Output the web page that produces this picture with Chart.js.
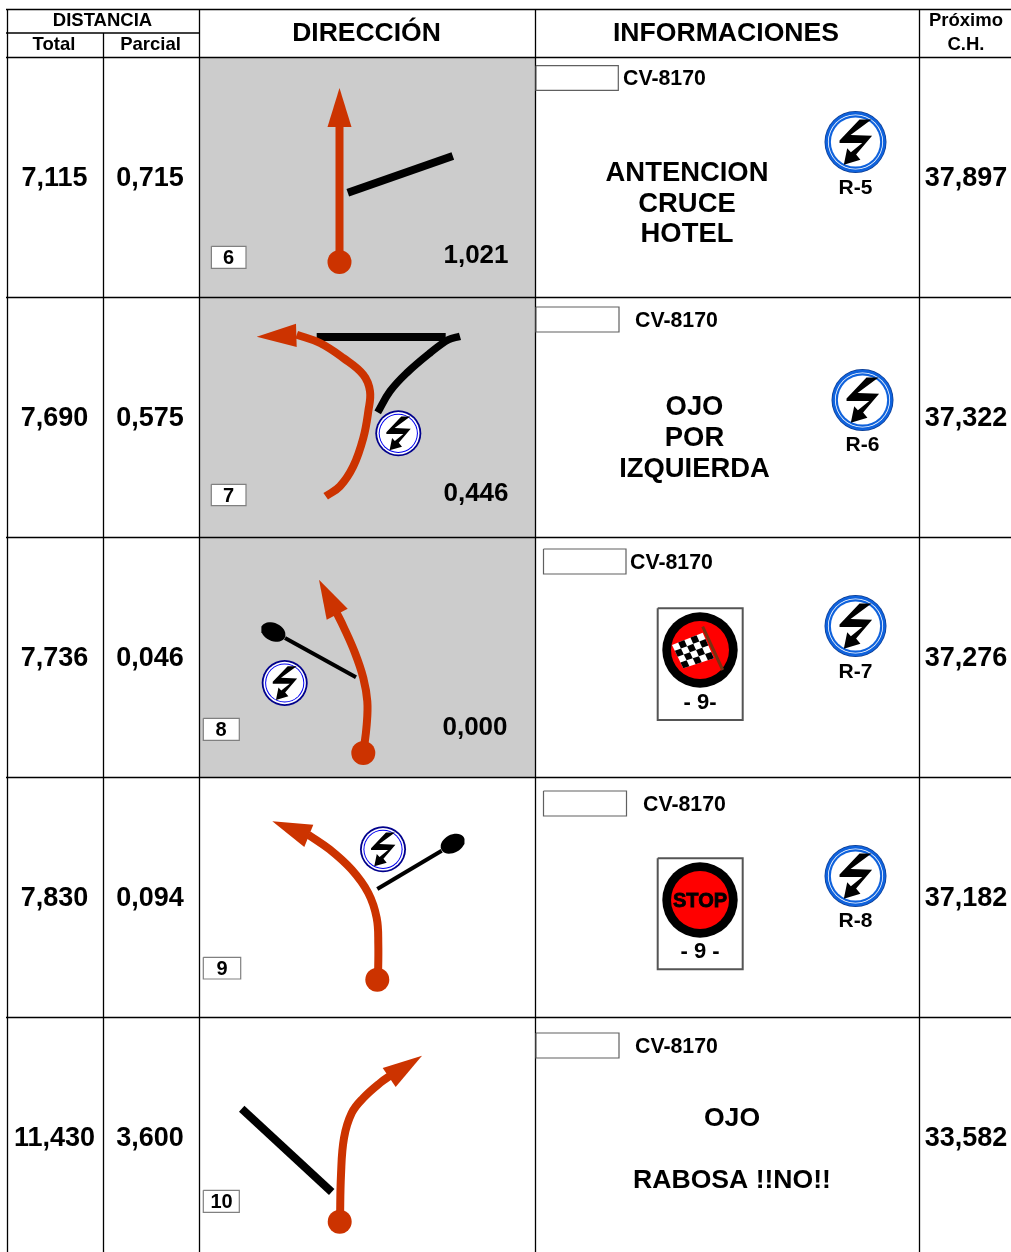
<!DOCTYPE html>
<html>
<head>
<meta charset="utf-8">
<title>Road book</title>
<script src="https://cdn.jsdelivr.net/npm/chart.js@4"></script>
<style>
  html, body { margin: 0; padding: 0; background: #fff; }
  canvas { display: block; }
</style>
</head>
<body>
<canvas id="roadBook" width="1011" height="1252"></canvas>
<script>
// Values read from the road book
const totals = [7.115, 7.690, 7.736, 7.830, 11.430];
const partials = [0.715, 0.575, 0.046, 0.094, 3.600];
const nextCheck = [37.897, 37.322, 37.276, 37.182, 33.582];
const stepNumbers = ['6', '7', '8', '9', '10'];
const trackDistances = [1.021, 0.446, 0.000];
const roadName = 'CV-8170';
const radarCodes = ['R-5', 'R-6', 'R-7', 'R-8'];
const notesRow1 = ['ANTENCION', 'CRUCE', 'HOTEL'];
const notesRow2 = ['OJO', 'POR', 'IZQUIERDA'];
const notesRow5 = ['OJO', 'RABOSA !!NO!!'];

// Route traces, in page units of the chart's axes
const route1 = [[339.5, 262], [339.5, 125]];
const route2 = [[325.7, 496.3], [340, 486.3], [353.3, 466.3], [363.3, 438], [368.3, 411.3], [370, 391.3], [363.3, 374.7], [343.3, 358], [320, 343], [296.7, 334.7]];
const route3 = [[363.3, 753], [366.7, 724.7], [367.3, 701.3], [363.3, 678], [355, 653], [343.3, 626.3], [336.7, 613]];
const route4 = [[378, 979], [378.3, 944.7], [376.7, 918], [368.3, 893], [351.7, 869.7], [330, 849.7], [308.3, 834.7]];
const route5 = [[340, 1221], [341, 1174.7], [344, 1138], [351.7, 1113], [363.3, 1098], [380, 1083], [391.7, 1074.7]];

const head1 = [[339.5, 88], [351.5, 127], [327.5, 127]];
const head2 = [[256.7, 336.7], [296, 323.7], [296.7, 347]];
const head3 = [[319, 579.7], [347.7, 608.7], [326.7, 619.7]];
const head4 = [[272.3, 821.3], [313.3, 824.7], [304.3, 847]];
const head5 = [[422, 1055.7], [382.7, 1068], [395.7, 1087]];

const startDots = [[339.5, 262], [363.3, 753], [377.3, 979.7], [339.7, 1221.7]];

const side1 = [[347.8, 192.7], [452.8, 156]];
const side2a = [[316.7, 337], [445.7, 337]];
const side2b = [[377.7, 412.3], [390, 391.3], [406.7, 373], [430, 353], [448.3, 339.7], [460, 336.3]];
const side3 = [[285, 638], [356, 677.3]];
const side4 = [[441.7, 850.7], [377.3, 889]];
const side5 = [[241.7, 1108.7], [331.7, 1192]];

const bolt = [[0.13, -0.73], [0.52, -0.73], [-0.16, -0.23], [0.54, -0.2], [0.02, 0.41], [0.16, 0.58], [-0.38, 0.74], [-0.27, 0.2], [-0.15, 0.33], [0.22, 0.03], [-0.52, 0.03], [-0.52, -0.05]];

const RED = '#CC3300';
const GREY = '#CCCCCC';
const datasets = [];

function pts(list) {
    return list.map(p => ({ x: p[0], y: p[1] }));
}

function stroke(list, width, color, tension) {
    datasets.push({
        data: pts(list), showLine: true, fill: false, pointRadius: 0,
        borderColor: color, borderWidth: width, tension: tension || 0, borderCapStyle: 'butt'
    });
}

function shape(list, color, edge, edgeWidth) {
    datasets.push({
        data: pts(list.concat([list[0]])), showLine: true, fill: 'shape', pointRadius: 0,
        backgroundColor: color, borderColor: edge || color, borderWidth: edgeWidth === undefined ? 0 : edgeWidth
    });
}

function box(x0, y0, x1, y1, color, edge, edgeWidth) {
    shape([[x0, y0], [x1, y0], [x1, y1], [x0, y1]], color, edge, edgeWidth);
}

function disc(x, y, r, color) {
    datasets.push({
        data: [{ x: x, y: y }], showLine: false, pointStyle: 'circle', pointRadius: r,
        pointBackgroundColor: color, pointBorderColor: color, pointBorderWidth: 0
    });
}

function ellipse(cx, cy, a, b, angle) {
    const list = [];
    for (let i = 0; i < 36; i++) {
        const t = i * Math.PI / 18;
        const ex = a * Math.cos(t), ey = b * Math.sin(t);
        list.push([cx + ex * Math.cos(angle) - ey * Math.sin(angle), cy + ex * Math.sin(angle) + ey * Math.cos(angle)]);
    }
    shape(list, '#000');
}

function radarSign(x, y, big) {
    if (big) {
        disc(x, y, 31, '#0A3A90');
        disc(x, y, 30.3, '#0F62DC');
        disc(x, y, 27.6, '#fff');
        disc(x, y, 26.8, '#0F62DC');
        disc(x, y, 24.6, '#fff');
    } else {
        disc(x, y, 23, '#00008C');
        disc(x, y, 21.2, '#fff');
        disc(x, y, 19.6, '#0000F0');
        disc(x, y, 18.6, '#fff');
    }
    const r = big ? 30.7 : 23;
    shape(bolt.map(p => [x + p[0] * r, y + p[1] * r]), '#000');
}

function plate(x0, y0, x1, y1) {
    box(x0, y0, x1, y1, '#fff', '#555', 2);
    disc(700, y0 + 41.7, 37.7, '#000');
    disc(700, y0 + 41.7, 29, '#FF0000');
}

function flag(a, b, c, d) {
    const at = (u, v) => [
        a[0] * (1 - u) * (1 - v) + b[0] * u * (1 - v) + c[0] * u * v + d[0] * (1 - u) * v,
        a[1] * (1 - u) * (1 - v) + b[1] * u * (1 - v) + c[1] * u * v + d[1] * (1 - u) * v
    ];
    shape([a, b, c, d], '#fff');
    const cols = 5, rows = 4;
    for (let i = 0; i < cols; i++) {
        for (let j = 0; j < rows; j++) {
            if ((i + j) % 2 === 0) continue;
            shape([at(i / cols, j / rows), at((i + 1) / cols, j / rows), at((i + 1) / cols, (j + 1) / rows), at(i / cols, (j + 1) / rows)], '#000');
        }
    }
}

// Grey cells
box(199.5, 57.5, 535, 297, GREY);
box(199.5, 297, 535, 537, GREY);
box(199.5, 537, 535, 777, GREY);

// Table rules
const H = 1.3;
[[6, 9.5, 1011, 9.5], [6, 33, 199.5, 33], [6, 57.5, 1011, 57.5], [6, 297.5, 1011, 297.5], [6, 537.5, 1011, 537.5], [6, 777.5, 1011, 777.5], [6, 1017.5, 1011, 1017.5],
 [7.5, 9, 7.5, 1252], [103.5, 33, 103.5, 1252], [199.5, 9, 199.5, 1252], [535.5, 9, 535.5, 1252], [919.5, 9, 919.5, 1252]].forEach(l => {
    stroke([[l[0], l[1]], [l[2], l[3]]], H, '#000');
});

// Number and road boxes
[[211.4, 246.3, 246, 268.3], [211.3, 484.3, 246, 505.7], [203.3, 718.3, 239.3, 740.3], [203.3, 957.3, 240.7, 979], [203.3, 1190.3, 239.3, 1212.3]].forEach(b => {
    box(b[0], b[1], b[2], b[3], '#fff', '#808080', 1.2);
});
[[536, 65.7, 618.3, 90.3], [536, 307, 619, 332], [543.5, 549, 626, 574], [543.5, 791, 626.5, 816], [536, 1033, 619, 1058]].forEach(b => {
    box(b[0], b[1], b[2], b[3], '#fff', '#606060', 1.2);
});

// Tracks that are not followed
stroke(side1, 8, '#000');
stroke(side2a, 8, '#000');
stroke(side2b, 7.5, '#000', 0.4);
stroke(side3, 4, '#000');
ellipse(273.3, 632, 12.8, 9, 0.45);
stroke(side4, 4, '#000');
ellipse(452.7, 843.7, 12.8, 9, -0.5);
stroke(side5, 8, '#000');

// Followed route
stroke(route1, 8, RED);
stroke(route2, 8, RED, 0.4);
stroke(route3, 8, RED, 0.4);
stroke(route4, 8, RED, 0.4);
stroke(route5, 8, RED, 0.4);
[head1, head2, head3, head4, head5].forEach(h => shape(h, RED));
startDots.forEach(d => disc(d[0], d[1], 12, RED));

// Small radar signs beside the tracks
radarSign(398.3, 433.3, false);
radarSign(284.7, 683, false);
radarSign(383, 849.3, false);

// Big radar signs
const radarSpots = [[855.5, 142], [862.5, 400], [855.5, 626], [855.5, 876]];
radarSpots.forEach(s => radarSign(s[0], s[1], true));

// Traffic plates
plate(657.7, 608.3, 742.7, 720);
flag([672, 645], [702.7, 632.7], [714, 658.3], [683.3, 668.3]);
stroke([[702.7, 626.7], [722.7, 670]], 3, '#7A3010');
plate(657.7, 858.3, 742.7, 969.3);

datasets.forEach((d, i) => { d.order = -i; });

// Texts
const fmt = v => v.toFixed(3).replace('.', ',');
const rowMid = [177, 417, 657, 897, 1137];
const labels = [];
function label(text, x, y, size, align, heavy) {
    labels.push({ text, x, y, size, align: align || 'center', heavy: heavy || 0 });
}

label('DISTANCIA', 102.5, 20, 18.5);
label('Total', 54, 44, 18.5);
label('Parcial', 150.5, 44, 18.5);
label('DIRECCIÓN', 366.5, 32, 26.5);
label('INFORMACIONES', 726, 32, 26.6);
label('Próximo', 966, 20, 18.5);
label('C.H.', 966, 44, 18.5);

rowMid.forEach((y, i) => {
    label(fmt(totals[i]), 54.5, y, 27);
    label(fmt(partials[i]), 150, y, 27);
    label(fmt(nextCheck[i]), 966, y, 27);
});

const stepSpots = [[228.5, 257], [228.5, 495], [221, 729], [222, 968], [221.5, 1201]];
stepNumbers.forEach((n, i) => label(n, stepSpots[i][0], stepSpots[i][1], 20));

const distSpots = [[476, 254], [476, 492], [475, 726]];
trackDistances.forEach((v, i) => label(fmt(v), distSpots[i][0], distSpots[i][1], 26));

const roadSpots = [[623, 78], [635, 320], [630, 562], [643, 804], [635, 1046]];
roadSpots.forEach(s => label(roadName, s[0], s[1], 21.3, 'left'));

notesRow1.forEach((t, i) => label(t, 687, [172, 203, 233][i], 27.4));
notesRow2.forEach((t, i) => label(t, 694.5, [406, 437, 468][i], 27.4));
notesRow5.forEach((t, i) => label(t, 732, [1117, 1179][i], 26.6));

radarCodes.forEach((c, i) => label(c, radarSpots[i][0], [187, 444, 671, 920][i], 21));

label('- 9-', 700, 701, 22);
label('- 9 -', 700, 950, 22);
label('STOP', 700, 900.5, 20, 'center', 0.8);

const textPlugin = {
    id: 'cellText',
    afterDatasetsDraw(chart) {
        const ctx = chart.ctx;
        const xs = chart.scales.x, ys = chart.scales.y;
        ctx.save();
        ctx.fillStyle = '#000';
        ctx.strokeStyle = '#000';
        ctx.textBaseline = 'middle';
        labels.forEach(l => {
            ctx.font = 'bold ' + l.size + 'px "Liberation Sans"';
            ctx.textAlign = l.align;
            const px = xs.getPixelForValue(l.x);
            const py = ys.getPixelForValue(l.y) + l.size * 0.07;
            ctx.fillText(l.text, px, py);
            if (l.heavy) {
                ctx.lineWidth = l.heavy;
                ctx.strokeText(l.text, px, py);
            }
        });
        ctx.restore();
    }
};

new Chart(document.getElementById('roadBook').getContext('2d'), {
    type: 'scatter',
    data: { datasets: datasets },
    plugins: [textPlugin],
    options: {
        responsive: false,
        animation: false,
        layout: { padding: 0, autoPadding: false },
        plugins: { legend: { display: false }, tooltip: { enabled: false }, title: { display: false } },
        scales: {
            x: { type: 'linear', min: 0, max: 1011, display: false },
            y: { type: 'linear', min: 0, max: 1252, reverse: true, display: false }
        }
    }
});
</script>
</body>
</html>
